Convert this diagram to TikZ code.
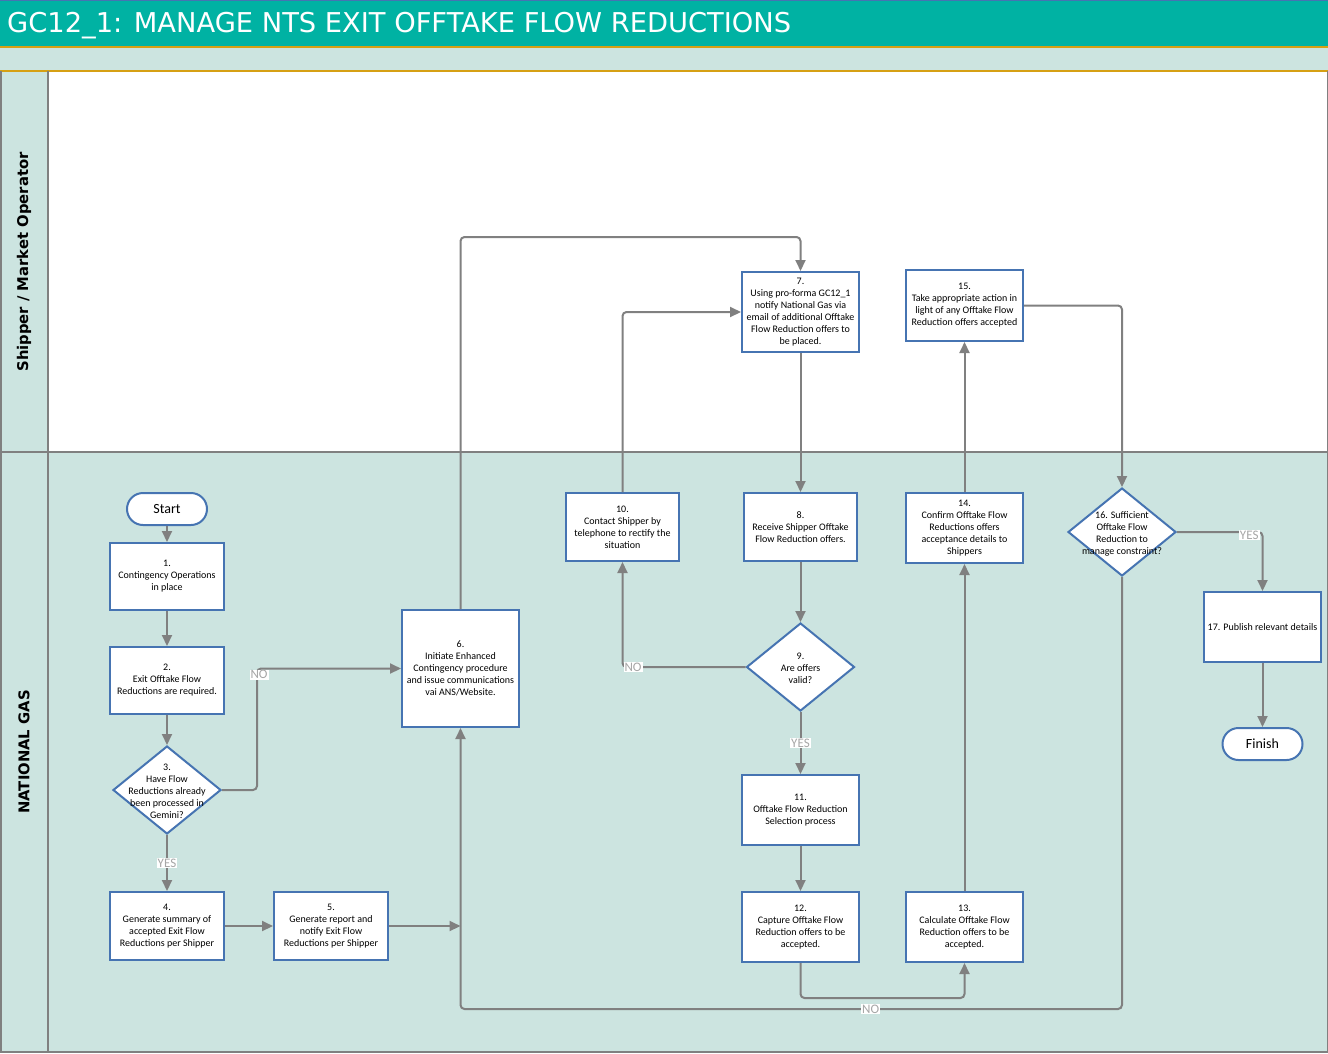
\documentclass[tikz,border=0pt]{standalone}
\usepackage{fontspec}
\setmainfont{Carlito}
\newfontfamily\verdanalike{DejaVu Sans}
\usetikzlibrary{shapes.geometric,arrows.meta}
\definecolor{titleteal}{RGB}{0,178,163}
\definecolor{lanebg}{RGB}{204,228,224}
\definecolor{lanegold}{RGB}{214,160,20}
\definecolor{laneline}{RGB}{128,128,128}
\definecolor{boxblue}{RGB}{70,116,178}
\definecolor{flowgray}{RGB}{128,128,128}
\definecolor{answergray}{RGB}{166,166,166}
\tikzset{
	process/.style={draw=boxblue, line width=2pt, fill=white, minimum width=117pt, minimum height=70pt, inner sep=1pt, align=center, font=\fontsize{10}{12}\selectfont},
	decision/.style={diamond, draw=boxblue, line width=2pt, fill=white, minimum width=108pt, minimum height=88pt, inner sep=0pt},
	decisiontext/.style={align=center, inner sep=0pt, font=\fontsize{10}{12}\selectfont},
	terminal/.style={draw=boxblue, line width=2pt, fill=white, rounded corners=16pt, minimum width=80pt, minimum height=32pt, font=\fontsize{14}{16}\selectfont},
	flow/.style={draw=flowgray, line width=2pt, rounded corners=4pt, -{Triangle[length=11pt,width=10pt]}},
	answer/.style={fill=white, text=answergray, sharp corners, inner sep=1pt, font=\fontsize{13}{14}\selectfont},
	lanetitle/.style={rotate=90, font=\verdanalike\bfseries\fontsize{14.8}{17}\selectfont}
}

\begin{document}
\begin{tikzpicture}[x=1pt, y=-1pt]

					\useasboundingbox (0,0) rectangle (1328,1053);
					\fill[titleteal] (0,0) rectangle (1328,46);
					\draw[boxblue, line width=1pt] (0,0.5) -- (1328,0.5);
					\fill[lanebg] (0,46) rectangle (1328,1053);
					\fill[white] (48,71) rectangle (1328,452);
					\draw[lanegold, line width=2pt] (0,47) -- (1328,47);
					\draw[lanegold, line width=2pt] (0,71) -- (1328,71);
					\draw[laneline, line width=2pt] (0,452) -- (1328,452);
					\draw[laneline, line width=1.5pt] (1,71) -- (1,1052) -- (1328,1052);
					\draw[laneline, line width=2pt] (47.5,71) -- (47.5,1052);
					\draw[laneline, line width=1pt] (1327.5,71) -- (1327.5,1052);

					\node[anchor=base west, inner sep=0pt, text=white, font=\verdanalike\fontsize{27.3}{30}\selectfont] (title) at (7,32.5) {GC12\_1: MANAGE NTS EXIT OFFTAKE FLOW REDUCTIONS};
					\node[lanetitle] (shipperlane) at (24,262) {Shipper / Market Operator};
					\node[lanetitle] (gaslane) at (24,752) {NATIONAL GAS};

					\node[terminal] (start) at (167,509) {Start};
					\node[process, minimum width=114pt, minimum height=67pt] (op1) at (167,576.5) {1.\\Contingency Operations\\in place};
					\node[process, minimum width=114pt, minimum height=67pt] (op2) at (167,680.5) {2.\\Exit Offtake Flow\\Reductions are required.};
					\node[decision, label={[decisiontext, yshift=-1.5pt]center:{3.\\Have Flow\\Reductions already\\been processed in\\Gemini?}}] (q3) at (167,790) {};
					\node[process, minimum width=114pt, minimum height=68pt] (op4) at (167,926) {4.\\Generate summary of\\accepted Exit Flow\\Reductions per Shipper};
					\node[process, minimum width=114pt, minimum height=68pt] (op5) at (331,926) {5.\\Generate report and\\notify Exit Flow\\Reductions per Shipper};
					\node[process, minimum height=117pt] (op6) at (460.5,668.5) {6.\\Initiate Enhanced\\Contingency procedure\\and issue communications\\vai ANS/Website.};
					\node[process, minimum height=80pt] (op7) at (800.5,312) {7.\\Using pro-forma GC12\_1\\notify National Gas via\\email of additional Offtake\\Flow Reduction offers to\\be placed.};
					\node[process, minimum width=113pt, minimum height=68pt] (op8) at (800.5,527) {8.\\Receive Shipper Offtake\\Flow Reduction offers.};
					\node[decision, label={[decisiontext, yshift=-1.5pt]center:{9.\\Are offers\\valid?}}] (q9) at (800.5,667) {};
					\node[process, minimum width=113pt, minimum height=68pt] (op10) at (622.5,527) {10.\\Contact Shipper by\\telephone to rectify the\\situation};
					\node[process] (op11) at (800.5,810) {11.\\Offtake Flow Reduction\\Selection process};
					\node[process] (op12) at (800.5,927) {12.\\Capture Offtake Flow\\Reduction offers to be\\accepted.};
					\node[process] (op13) at (964.5,927) {13.\\Calculate Offtake Flow\\Reduction offers to be\\accepted.};
					\node[process] (op14) at (964.5,528) {14.\\Confirm Offtake Flow\\Reductions offers\\acceptance details to\\Shippers};
					\node[process, minimum height=71pt] (op15) at (964.5,305.5) {15.\\Take appropriate action in\\light of any Offtake Flow\\Reduction offers accepted};
					\node[decision, label={[decisiontext, yshift=-1.5pt]center:{16. Sufficient\\Offtake Flow\\Reduction to\\manage constraint?}}] (q16) at (1122,532) {};
					\node[process] (op17) at (1262.5,627) {17. Publish relevant details};
					\node[terminal] (finish) at (1262.5,744) {Finish};

					\draw[flow] (start) -- (op1);
					\draw[flow] (op1) -- (op2);
					\draw[flow] (op2) -- (q3);
					\draw[flow] (q3.east) -- ++(35,0) |- node[answer, pos=0.5, anchor=north, xshift=2pt] {NO} (op6.west);
					\draw[flow] (q3) -- node[answer] {YES} (op4);
					\draw[flow] (op4) -- (op5);
					\draw[flow] (op5) -- (op5 -| op6.south);
					\draw[flow] (op6.north) -- ++(0,-372) -| (op7.north);
					\draw[flow] (op7) -- (op8);
					\draw[flow] (op8) -- (q9);
					\draw[flow] (q9.west) -| node[answer, pos=0.5, anchor=west] {NO} (op10.south);
					\draw[flow] (op10.north) |- (op7.west);
					\draw[flow] (q9) -- node[answer] {YES} (op11);
					\draw[flow] (op11) -- (op12);
					\draw[flow] (op12.south) -- ++(0,35) -| (op13.south);
					\draw[flow] (op13) -- (op14);
					\draw[flow] (op14) -- (op15);
					\draw[flow] (op15.east) -| (q16.north);
					\draw[flow] (q16.east) -| node[answer, pos=0.5, anchor=east, xshift=-2pt, yshift=-3pt] {YES} (op17.north);
					\draw[flow] (op17) -- (finish);
					\draw[flow] (q16.south) -- ++(0,432) -| node[answer, pos=0.19] {NO} (op6.south);

\end{tikzpicture}
\end{document}
